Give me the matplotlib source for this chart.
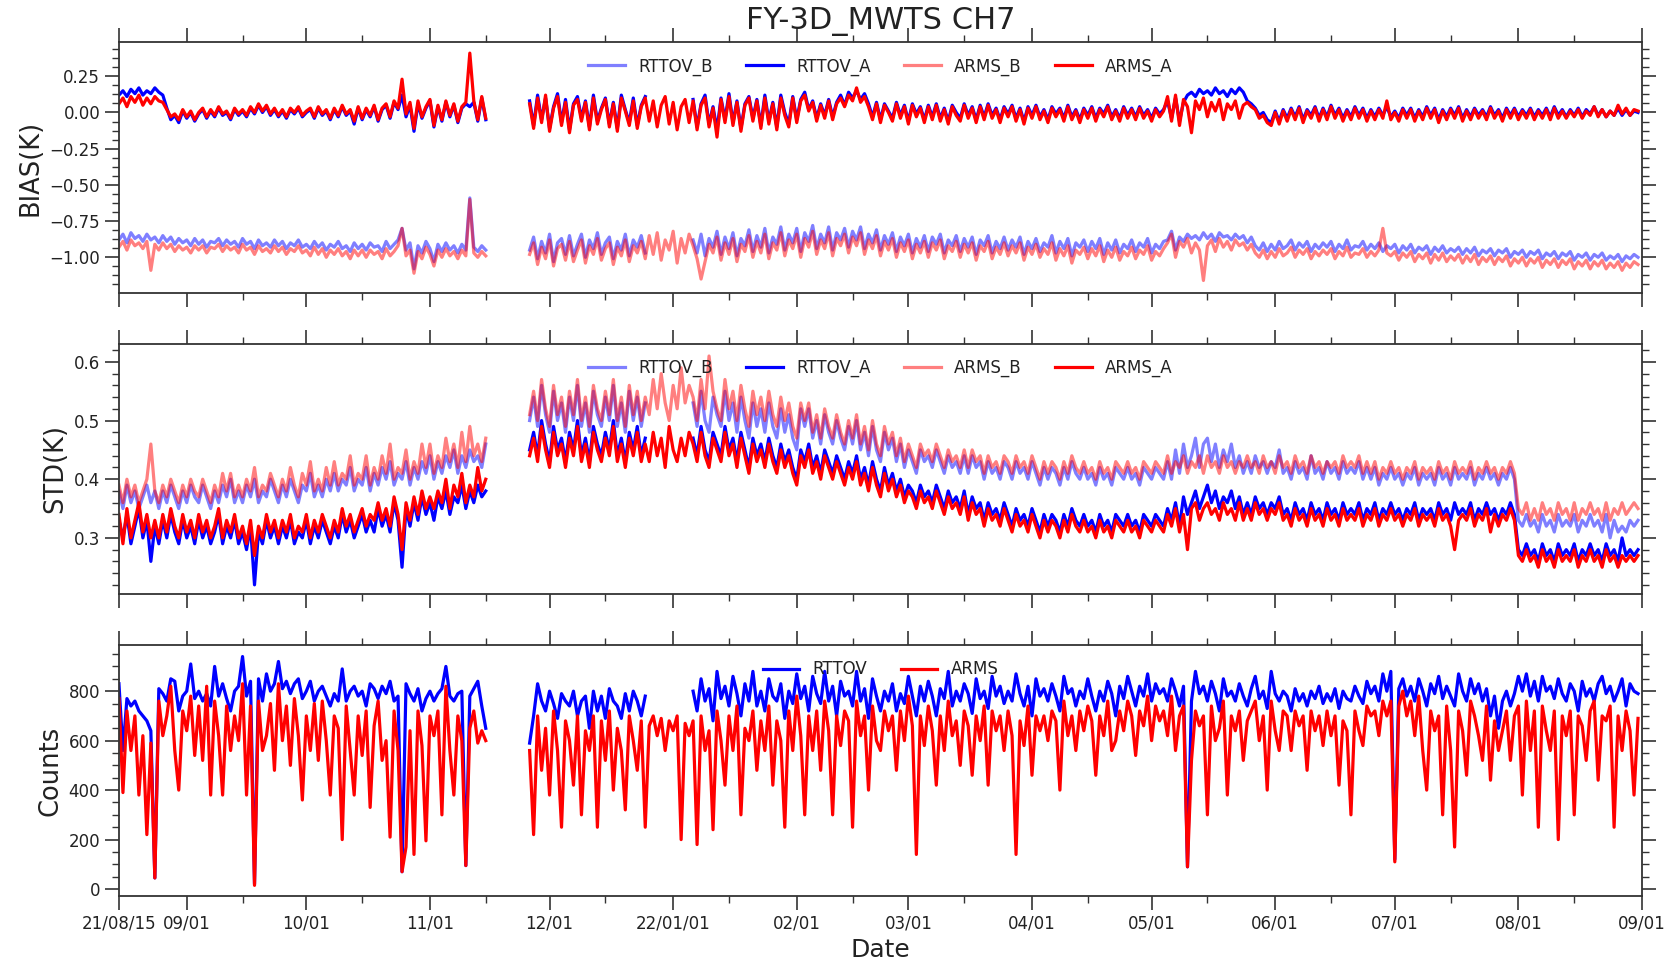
import numpy as np
import matplotlib
matplotlib.use('Agg')
import matplotlib.pyplot as plt
import matplotlib.dates as mdates
from matplotlib.ticker import AutoMinorLocator, FixedLocator, MultipleLocator
import pandas as pd

nan = float('nan')

# ---- daily time grid: two segments separated by a data gap ----
seg1_start, seg1_n = '2021-08-15', 93
seg2_start, seg2_n = '2021-11-26', 279

major_tick_dates = ['2021-08-15', '2021-09-01', '2021-10-01', '2021-11-01', '2021-12-01',
                    '2022-01-01', '2022-02-01', '2022-03-01', '2022-04-01', '2022-05-01',
                    '2022-06-01', '2022-07-01', '2022-08-01', '2022-09-01']
major_tick_labels = ['21/08/15', '09/01', '10/01', '11/01', '12/01', '22/01/01', '02/01',
                     '03/01', '04/01', '05/01', '06/01', '07/01', '08/01', '09/01']
minor_tick_dates = ['2021-09-15', '2021-10-15', '2021-11-15', '2021-12-15', '2022-01-15',
                    '2022-02-15', '2022-03-15', '2022-04-15', '2022-05-15', '2022-06-15',
                    '2022-07-15', '2022-08-15']

# ---- BIAS (K) ----
bias_rttov_b = [
    -0.88, -0.84, -0.90, -0.83, -0.87, -0.85, -0.89, -0.84, -0.88, -0.86,
    -0.90, -0.85, -0.89, -0.86, -0.91, -0.87, -0.90, -0.88, -0.92, -0.87,
    -0.91, -0.88, -0.93, -0.89, -0.90, -0.87, -0.92, -0.88, -0.91, -0.89,
    -0.93, -0.87, -0.91, -0.89, -0.94, -0.88, -0.92, -0.90, -0.93, -0.88,
    -0.92, -0.89, -0.94, -0.90, -0.92, -0.88, -0.93, -0.91, -0.94, -0.89,
    -0.93, -0.90, -0.95, -0.91, -0.93, -0.89, -0.94, -0.92, -0.96, -0.90,
    -0.94, -0.91, -0.95, -0.90, -0.93, -0.92, -0.96, -0.89, -0.94, -0.91,
    -0.88, -0.80, -0.95, -0.90, -1.08, -0.92, -0.97, -0.89, -0.94, -1.03,
    -0.91, -0.96, -0.90, -0.95, -0.92, -0.97, -0.91, -0.95, -0.59, -0.93,
    -0.96, -0.92, -0.95,
    -0.95, -0.86, -1.01, -0.89, -0.97, -0.84, -1.03, -0.90, -0.87, -0.98,
    -0.85, -0.99, -0.91, -0.84, -1.00, -0.88, -0.94, -0.83, -0.98, -0.90,
    -0.86, -1.01, -0.89, -0.95, -0.84, -0.99, -0.88, -0.93, -0.85, -0.97,
    nan, nan, nan, nan, nan, nan, nan, nan, nan, nan,
    nan, -0.88, -0.97, -0.84, -0.99, -0.87, -0.93, -0.82, -0.98, -0.86,
    -0.94, -0.83, -0.99, -0.87, -0.92, -0.81, -0.96, -0.85, -0.93, -0.80,
    -0.97, -0.86, -0.91, -0.79, -0.95, -0.84, -0.90, -0.80, -0.96, -0.83,
    -0.89, -0.78, -0.94, -0.84, -0.90, -0.79, -0.95, -0.83, -0.88, -0.80,
    -0.93, -0.82, -0.88, -0.79, -0.94, -0.84, -0.90, -0.81, -0.95, -0.85,
    -0.91, -0.83, -0.96, -0.86, -0.92, -0.84, -0.97, -0.87, -0.93, -0.85,
    -0.96, -0.86, -0.91, -0.84, -0.97, -0.88, -0.92, -0.85, -0.96, -0.87,
    -0.93, -0.86, -0.98, -0.88, -0.92, -0.85, -0.97, -0.89, -0.94, -0.86,
    -0.95, -0.88, -0.93, -0.86, -0.98, -0.89, -0.94, -0.87, -0.96, -0.90,
    -0.93, -0.85, -0.97, -0.89, -0.94, -0.87, -0.99, -0.90, -0.93, -0.88,
    -0.96, -0.89, -0.94, -0.87, -0.98, -0.90, -0.95, -0.88, -0.97, -0.91,
    -0.94, -0.88, -0.96, -0.90, -0.93, -0.87, -0.97, -0.91, -0.94, -0.89,
    -0.88, -0.82, -0.95, -0.86, -0.89, -0.84, -0.87, -0.85, -0.88, -0.83,
    -0.87, -0.84, -0.89, -0.83, -0.86, -0.85, -0.88, -0.84, -0.87, -0.85,
    -0.90, -0.86, -0.92, -0.95, -0.90, -0.96, -0.91, -0.95, -0.89, -0.94,
    -0.92, -0.88, -0.95, -0.90, -0.93, -0.89, -0.96, -0.91, -0.94, -0.90,
    -0.93, -0.89, -0.96, -0.91, -0.94, -0.88, -0.95, -0.92, -0.93, -0.89,
    -0.95, -0.91, -0.94, -0.90, -0.96, -0.92, -0.94, -0.91, -0.97, -0.92,
    -0.95, -0.91, -0.97, -0.93, -0.95, -0.92, -0.98, -0.93, -0.96, -0.92,
    -0.97, -0.94, -0.96, -0.93, -0.98, -0.94, -0.97, -0.93, -0.99, -0.95,
    -0.97, -0.94, -0.99, -0.95, -0.97, -0.94, -1.00, -0.96, -0.98, -0.95,
    -1.00, -0.96, -0.98, -0.95, -1.01, -0.97, -0.99, -0.96, -1.01, -0.97,
    -0.99, -0.96, -1.02, -0.98, -1.00, -0.97, -1.02, -0.98, -1.00, -0.97,
    -1.02, -0.99, -1.01, -0.98, -1.03, -0.99, -1.01, -0.98, -1.00,
]
bias_rttov_a = [
    0.12, 0.15, 0.11, 0.16, 0.13, 0.17, 0.12, 0.15, 0.13, 0.17,
    0.14, 0.12, 0.03, -0.05, -0.02, -0.07, 0.01, -0.04, 0.00, -0.06,
    -0.01, 0.02, -0.04, 0.01, -0.03, 0.03, -0.02, 0.00, -0.05, 0.02,
    -0.02, 0.01, -0.03, 0.03, -0.01, 0.05, 0.00, 0.04, -0.02, 0.02,
    -0.03, 0.01, -0.04, 0.02, -0.01, 0.03, -0.03, 0.00, 0.02, -0.04,
    0.03, -0.02, 0.01, -0.05, 0.02, -0.03, 0.04, -0.02, 0.01, -0.08,
    0.03, -0.05, 0.02, -0.03, 0.04, -0.06, 0.02, 0.05, -0.04, 0.07,
    0.02, 0.12, -0.03, 0.05, -0.13, 0.06, -0.04, 0.03, 0.08, -0.10,
    0.04, -0.06, 0.07, -0.03, 0.05, -0.07, 0.03, 0.06, 0.04, 0.07,
    -0.06, 0.10, -0.05,
    0.08, -0.09, 0.12, -0.05, 0.10, -0.11, 0.04, 0.13, -0.07, 0.09,
    -0.12, 0.06, 0.11, -0.04, 0.08, -0.10, 0.12, -0.06, 0.03, 0.10,
    -0.08, 0.07, -0.11, 0.12, 0.02, -0.07, 0.10, -0.09, 0.05, 0.11,
    nan, nan, nan, nan, nan, nan, nan, nan, nan, nan,
    nan, 0.09, -0.10, 0.06, 0.12, -0.08, 0.04, -0.12, 0.10, -0.05,
    0.13, -0.07, 0.08, -0.11, 0.06, 0.11, -0.04, 0.09, -0.09, 0.12,
    -0.06, 0.07, -0.10, 0.12, 0.00, -0.08, 0.11, -0.05, 0.09, 0.14,
    0.02, 0.08, -0.04, 0.06, -0.02, 0.09, -0.03, 0.07, 0.12, 0.05,
    0.14, 0.10, 0.15, 0.09, 0.13, 0.06, -0.03, 0.07, -0.05, 0.06,
    0.01, -0.04, 0.07, -0.02, 0.05, -0.06, 0.06, -0.01, 0.04, -0.05,
    0.05, -0.03, 0.06, -0.04, 0.03, -0.06, 0.05, 0.00, -0.04, 0.06,
    -0.02, 0.04, -0.05, 0.05, -0.03, 0.06, -0.02, 0.03, -0.05, 0.04,
    -0.01, 0.05, -0.04, 0.03, -0.06, 0.04, -0.02, 0.05, -0.03, 0.02,
    -0.05, 0.04, -0.01, 0.03, -0.04, 0.05, -0.03, 0.02, -0.05, 0.03,
    -0.02, 0.04, -0.04, 0.03, -0.01, 0.05, -0.03, 0.02, -0.04, 0.04,
    -0.02, 0.03, -0.03, 0.04, -0.02, 0.02, -0.04, 0.03, -0.01, 0.02,
    0.08, -0.04, 0.10, -0.06, 0.07, 0.12, 0.14, 0.11, 0.16, 0.13,
    0.15, 0.12, 0.17, 0.13, 0.15, 0.11, 0.16, 0.13, 0.17, 0.14,
    0.08, 0.06, 0.03, -0.02, 0.00, -0.05, -0.07, 0.01, -0.06, 0.02,
    -0.04, 0.03, -0.03, 0.04, -0.05, 0.02, -0.02, 0.04, -0.04, 0.03,
    -0.03, 0.05, -0.02, 0.03, -0.04, 0.02, -0.03, 0.04, -0.02, 0.03,
    -0.04, 0.02, -0.03, 0.03, -0.02, 0.04, -0.03, 0.01, -0.04, 0.03,
    -0.02, 0.03, -0.04, 0.02, -0.03, 0.04, -0.02, 0.03, -0.05, 0.02,
    -0.03, 0.03, -0.02, 0.04, -0.04, 0.02, -0.03, 0.03, -0.02, 0.02,
    -0.03, 0.04, -0.02, 0.02, -0.04, 0.03, -0.02, 0.03, -0.03, 0.02,
    -0.02, 0.03, -0.03, 0.02, -0.02, 0.03, -0.03, 0.04, -0.02, 0.02,
    -0.03, 0.02, -0.02, 0.03, -0.03, 0.02, -0.01, 0.04, -0.02, 0.02,
    -0.03, 0.01, -0.02, 0.03, -0.02, 0.02, -0.02, 0.01, 0.00,
]
bias_arms_b = [
    -0.93, -0.89, -0.95, -0.88, -0.92, -0.90, -0.94, -0.89, -1.09, -0.91,
    -0.95, -0.90, -0.94, -0.91, -0.96, -0.92, -0.95, -0.93, -0.97, -0.92,
    -0.95, -0.92, -0.97, -0.93, -0.94, -0.91, -0.96, -0.92, -0.95, -0.93,
    -0.97, -0.91, -0.95, -0.93, -0.98, -0.92, -0.96, -0.94, -0.97, -0.92,
    -0.96, -0.93, -0.98, -0.94, -0.96, -0.92, -0.97, -0.95, -0.99, -0.93,
    -0.98, -0.94, -1.00, -0.95, -0.98, -0.94, -0.99, -0.96, -1.01, -0.95,
    -0.99, -0.95, -1.00, -0.95, -0.98, -0.96, -1.01, -0.94, -0.99, -0.96,
    -0.92, -0.80, -0.99, -0.95, -1.11, -0.96, -1.01, -0.93, -0.98, -1.06,
    -0.95, -1.00, -0.94, -0.99, -0.96, -1.01, -0.95, -0.99, -0.60, -0.97,
    -1.00, -0.96, -0.99,
    -0.98, -0.90, -1.05, -0.93, -1.01, -0.88, -1.06, -0.94, -0.91, -1.02,
    -0.89, -1.03, -0.95, -0.88, -1.04, -0.92, -0.98, -0.87, -1.02, -0.94,
    -0.90, -1.05, -0.93, -0.99, -0.88, -1.03, -0.92, -0.97, -0.89, -1.01,
    -0.85, -0.98, -0.83, -1.02, -0.88, -0.95, -0.82, -1.04, -0.87, -0.97,
    -0.84, -0.92, -1.01, -1.15, -1.03, -0.91, -0.97, -0.86, -1.02, -0.90,
    -0.98, -0.87, -1.03, -0.91, -0.96, -0.85, -1.00, -0.89, -0.97, -0.84,
    -1.01, -0.90, -0.95, -0.83, -0.99, -0.88, -0.94, -0.84, -1.00, -0.87,
    -0.93, -0.82, -0.98, -0.88, -0.94, -0.83, -0.99, -0.87, -0.92, -0.84,
    -0.97, -0.86, -0.92, -0.83, -0.98, -0.88, -0.94, -0.85, -0.99, -0.89,
    -0.95, -0.87, -1.00, -0.90, -0.96, -0.88, -1.01, -0.91, -0.97, -0.89,
    -1.00, -0.90, -0.95, -0.88, -1.01, -0.92, -0.96, -0.89, -1.00, -0.91,
    -0.97, -0.90, -1.02, -0.92, -0.96, -0.89, -1.01, -0.93, -0.98, -0.90,
    -0.99, -0.92, -0.97, -0.90, -1.02, -0.93, -0.98, -0.91, -1.00, -0.94,
    -0.98, -0.90, -1.02, -0.94, -0.99, -0.92, -1.04, -0.95, -0.98, -0.93,
    -1.01, -0.94, -0.99, -0.92, -1.03, -0.95, -1.00, -0.93, -1.02, -0.96,
    -0.99, -0.93, -1.01, -0.95, -0.98, -0.92, -1.02, -0.96, -0.99, -0.94,
    -0.90, -0.84, -1.00, -0.89, -0.93, -0.87, -0.97, -0.90, -0.95, -1.16,
    -0.92, -0.88, -0.96, -0.87, -0.93, -0.89, -0.95, -0.88, -0.92, -0.90,
    -0.95, -0.91, -0.97, -1.00, -0.95, -1.01, -0.96, -1.00, -0.94, -0.99,
    -0.97, -0.93, -1.00, -0.95, -0.98, -0.94, -1.01, -0.96, -0.99, -0.95,
    -0.98, -0.94, -1.01, -0.96, -0.99, -0.93, -1.00, -0.97, -0.98, -0.94,
    -1.00, -0.96, -0.99, -0.95, -0.80, -0.97, -0.99, -0.96, -1.02, -0.97,
    -1.00, -0.96, -1.03, -0.98, -1.01, -0.97, -1.04, -0.98, -1.02, -0.97,
    -1.03, -0.99, -1.02, -0.98, -1.04, -0.99, -1.03, -0.98, -1.05, -1.00,
    -1.03, -0.99, -1.05, -1.00, -1.03, -0.99, -1.06, -1.01, -1.04, -1.00,
    -1.06, -1.01, -1.04, -1.00, -1.07, -1.02, -1.05, -1.01, -1.07, -1.02,
    -1.05, -1.01, -1.08, -1.03, -1.06, -1.02, -1.08, -1.03, -1.06, -1.02,
    -1.08, -1.04, -1.07, -1.03, -1.09, -1.04, -1.07, -1.03, -1.05,
]
bias_arms_a = [
    0.06, 0.10, 0.04, 0.11, 0.07, 0.12, 0.05, 0.10, 0.06, 0.11,
    0.08, 0.07, 0.02, -0.03, -0.01, -0.05, 0.02, -0.03, 0.01, -0.05,
    0.00, 0.03, -0.03, 0.02, -0.02, 0.04, -0.01, 0.01, -0.04, 0.03,
    -0.01, 0.02, -0.02, 0.04, 0.00, 0.06, 0.01, 0.05, -0.01, 0.03,
    -0.02, 0.02, -0.03, 0.03, 0.00, 0.04, -0.02, 0.01, 0.03, -0.03,
    0.04, -0.01, 0.02, -0.04, 0.03, -0.02, 0.05, -0.01, 0.02, -0.06,
    0.04, -0.04, 0.03, -0.02, 0.05, -0.05, 0.03, 0.06, -0.03, 0.08,
    0.03, 0.23, -0.01, 0.07, -0.11, 0.08, -0.03, 0.04, 0.09, -0.09,
    0.05, -0.05, 0.08, -0.02, 0.06, -0.06, 0.04, 0.07, 0.41, 0.08,
    -0.05, 0.11, -0.04,
    0.06, -0.11, 0.10, -0.07, 0.12, -0.13, 0.03, 0.11, -0.09, 0.07,
    -0.14, 0.05, 0.09, -0.06, 0.07, -0.12, 0.10, -0.08, 0.02, 0.09,
    -0.10, 0.06, -0.13, 0.10, 0.01, -0.09, 0.08, -0.11, 0.04, 0.10,
    -0.06, 0.08, -0.10, 0.05, 0.11, -0.08, 0.07, -0.12, 0.04, 0.09,
    -0.07, 0.08, -0.12, 0.05, 0.10, -0.10, 0.03, -0.17, 0.09, -0.07,
    0.11, -0.09, 0.07, -0.13, 0.05, 0.10, -0.06, 0.08, -0.11, 0.10,
    -0.08, 0.06, -0.12, 0.10, -0.02, -0.10, 0.10, -0.07, 0.08, 0.12,
    0.01, 0.07, -0.06, 0.05, -0.04, 0.08, -0.05, 0.06, 0.10, 0.04,
    0.12, 0.08, 0.17, 0.07, 0.11, 0.04, -0.05, 0.06, -0.07, 0.05,
    0.00, -0.06, 0.06, -0.04, 0.04, -0.08, 0.05, -0.03, 0.03, -0.07,
    0.04, -0.05, 0.05, -0.06, 0.02, -0.08, 0.04, -0.02, -0.06, 0.05,
    -0.04, 0.03, -0.07, 0.04, -0.05, 0.05, -0.04, 0.02, -0.07, 0.03,
    -0.03, 0.04, -0.06, 0.02, -0.08, 0.03, -0.04, 0.04, -0.05, 0.01,
    -0.07, 0.03, -0.03, 0.02, -0.06, 0.04, -0.05, 0.01, -0.07, 0.02,
    -0.04, 0.03, -0.06, 0.02, -0.03, 0.04, -0.05, 0.01, -0.06, 0.03,
    -0.04, 0.02, -0.05, 0.03, -0.04, 0.01, -0.06, 0.02, -0.03, 0.01,
    0.11, -0.06, 0.12, -0.09, 0.09, 0.04, -0.14, 0.08, 0.02, 0.10,
    -0.03, 0.07, 0.01, 0.09, -0.05, 0.06, 0.02, 0.08, -0.04, 0.05,
    0.07, 0.04, 0.02, -0.04, -0.02, -0.07, -0.09, 0.00, -0.08, 0.01,
    -0.06, 0.02, -0.05, 0.03, -0.07, 0.01, -0.04, 0.03, -0.06, 0.02,
    -0.05, 0.04, -0.04, 0.02, -0.06, 0.01, -0.05, 0.03, -0.04, 0.02,
    -0.06, 0.01, -0.05, 0.02, -0.04, 0.08, -0.05, 0.00, -0.06, 0.02,
    -0.04, 0.02, -0.06, 0.01, -0.05, 0.03, -0.04, 0.02, -0.07, 0.01,
    -0.05, 0.02, -0.04, 0.03, -0.06, 0.01, -0.05, 0.02, -0.04, 0.01,
    -0.05, 0.03, -0.04, 0.01, -0.06, 0.02, -0.04, 0.02, -0.05, 0.01,
    -0.04, 0.02, -0.05, 0.01, -0.04, 0.02, -0.05, 0.03, -0.04, 0.01,
    -0.04, 0.01, -0.03, 0.02, -0.04, 0.01, -0.02, 0.04, -0.03, 0.02,
    -0.03, 0.01, -0.02, 0.05, -0.01, 0.03, -0.02, 0.02, 0.01,
]

# ---- STD (K) ----
std_rttov_b = [
    0.38, 0.35, 0.39, 0.36, 0.38, 0.35, 0.37, 0.39, 0.36, 0.38,
    0.35, 0.38, 0.36, 0.39, 0.37, 0.35, 0.38, 0.36, 0.39, 0.37,
    0.36, 0.39, 0.37, 0.35, 0.38, 0.36, 0.39, 0.37, 0.40, 0.36,
    0.38, 0.36, 0.39, 0.37, 0.40, 0.36, 0.38, 0.37, 0.40, 0.38,
    0.36, 0.39, 0.37, 0.40, 0.38, 0.36, 0.39, 0.38, 0.41, 0.37,
    0.39, 0.37, 0.40, 0.38, 0.41, 0.38, 0.40, 0.39, 0.42, 0.38,
    0.40, 0.39, 0.42, 0.38, 0.41, 0.39, 0.42, 0.40, 0.43, 0.39,
    0.41, 0.40, 0.43, 0.39, 0.42, 0.40, 0.43, 0.41, 0.44, 0.40,
    0.43, 0.41, 0.44, 0.42, 0.45, 0.41, 0.44, 0.42, 0.45, 0.43,
    0.44, 0.42, 0.46,
    0.50, 0.54, 0.49, 0.56, 0.51, 0.48, 0.55, 0.50, 0.53, 0.48,
    0.54, 0.50, 0.56, 0.49, 0.53, 0.48, 0.55, 0.51, 0.49, 0.54,
    0.50, 0.56, 0.49, 0.53, 0.48, 0.55, 0.50, 0.54, 0.49, 0.53,
    nan, nan, nan, nan, nan, nan, nan, nan, nan, nan,
    nan, 0.53, 0.49, 0.55, 0.50, 0.48, 0.54, 0.51, 0.49, 0.55,
    0.50, 0.53, 0.48, 0.54, 0.50, 0.47, 0.53, 0.49, 0.52, 0.48,
    0.53, 0.49, 0.47, 0.52, 0.48, 0.51, 0.47, 0.45, 0.52, 0.49,
    0.52, 0.47, 0.50, 0.46, 0.51, 0.48, 0.46, 0.50, 0.47, 0.45,
    0.49, 0.46, 0.50, 0.45, 0.48, 0.44, 0.49, 0.45, 0.43, 0.48,
    0.45, 0.47, 0.43, 0.46, 0.42, 0.45, 0.43, 0.41, 0.45, 0.43,
    0.44, 0.42, 0.45, 0.43, 0.41, 0.44, 0.42, 0.43, 0.41, 0.44,
    0.41, 0.44, 0.42, 0.43, 0.40, 0.43, 0.41, 0.42, 0.40, 0.43,
    0.42, 0.40, 0.43, 0.41, 0.42, 0.40, 0.43, 0.41, 0.39, 0.42,
    0.40, 0.42, 0.41, 0.39, 0.42, 0.40, 0.43, 0.41, 0.40, 0.42,
    0.40, 0.41, 0.39, 0.42, 0.40, 0.41, 0.39, 0.42, 0.41, 0.40,
    0.42, 0.40, 0.41, 0.39, 0.42, 0.41, 0.40, 0.42, 0.41, 0.40,
    0.43, 0.40, 0.45, 0.41, 0.46, 0.42, 0.44, 0.47, 0.42, 0.46,
    0.47, 0.43, 0.46, 0.42, 0.45, 0.43, 0.46, 0.42, 0.44, 0.41,
    0.43, 0.41, 0.44, 0.42, 0.43, 0.41, 0.43, 0.42, 0.45, 0.41,
    0.42, 0.40, 0.43, 0.41, 0.42, 0.40, 0.44, 0.41, 0.42, 0.40,
    0.43, 0.41, 0.42, 0.40, 0.43, 0.41, 0.42, 0.41, 0.43, 0.40,
    0.42, 0.40, 0.42, 0.39, 0.41, 0.40, 0.42, 0.40, 0.41, 0.39,
    0.41, 0.40, 0.42, 0.39, 0.41, 0.40, 0.41, 0.39, 0.42, 0.40,
    0.41, 0.39, 0.42, 0.40, 0.41, 0.40, 0.42, 0.39, 0.41, 0.40,
    0.42, 0.40, 0.41, 0.39, 0.41, 0.40, 0.42, 0.40, 0.33, 0.32,
    0.34, 0.32, 0.33, 0.31, 0.34, 0.32, 0.33, 0.31, 0.34, 0.32,
    0.33, 0.32, 0.34, 0.31, 0.33, 0.32, 0.34, 0.32, 0.33, 0.31,
    0.34, 0.30, 0.33, 0.31, 0.32, 0.31, 0.33, 0.32, 0.33,
]
std_rttov_a = [
    0.33, 0.30, 0.34, 0.29, 0.32, 0.35, 0.30, 0.33, 0.26, 0.32,
    0.29, 0.33, 0.30, 0.34, 0.31, 0.29, 0.33, 0.30, 0.32, 0.29,
    0.33, 0.30, 0.32, 0.29, 0.31, 0.34, 0.29, 0.32, 0.30, 0.33,
    0.29, 0.31, 0.28, 0.32, 0.22, 0.31, 0.29, 0.33, 0.30, 0.32,
    0.29, 0.32, 0.30, 0.33, 0.29, 0.31, 0.30, 0.33, 0.29, 0.32,
    0.30, 0.33, 0.31, 0.29, 0.32, 0.30, 0.34, 0.31, 0.33, 0.30,
    0.32, 0.34, 0.31, 0.33, 0.31, 0.35, 0.32, 0.34, 0.31, 0.36,
    0.33, 0.25, 0.35, 0.32, 0.36, 0.33, 0.37, 0.34, 0.36, 0.33,
    0.37, 0.35, 0.38, 0.34, 0.37, 0.36, 0.39, 0.35, 0.38, 0.36,
    0.39, 0.37, 0.38,
    0.45, 0.48, 0.44, 0.50, 0.46, 0.43, 0.49, 0.45, 0.47, 0.43,
    0.48, 0.45, 0.50, 0.44, 0.47, 0.43, 0.49, 0.46, 0.44, 0.48,
    0.45, 0.50, 0.44, 0.47, 0.43, 0.48, 0.45, 0.49, 0.44, 0.47,
    nan, nan, nan, nan, nan, nan, nan, nan, nan, nan,
    nan, 0.47, 0.44, 0.49, 0.45, 0.43, 0.48, 0.46, 0.44, 0.49,
    0.45, 0.47, 0.43, 0.48, 0.45, 0.42, 0.47, 0.44, 0.46, 0.43,
    0.47, 0.44, 0.42, 0.46, 0.43, 0.45, 0.42, 0.40, 0.45, 0.43,
    0.46, 0.42, 0.44, 0.41, 0.45, 0.43, 0.41, 0.44, 0.42, 0.40,
    0.43, 0.41, 0.44, 0.40, 0.42, 0.39, 0.43, 0.40, 0.38, 0.42,
    0.39, 0.41, 0.38, 0.40, 0.37, 0.39, 0.38, 0.36, 0.39, 0.37,
    0.38, 0.36, 0.39, 0.37, 0.35, 0.38, 0.36, 0.37, 0.35, 0.38,
    0.34, 0.37, 0.35, 0.36, 0.33, 0.36, 0.34, 0.35, 0.33, 0.36,
    0.34, 0.32, 0.35, 0.33, 0.34, 0.32, 0.35, 0.33, 0.31, 0.34,
    0.32, 0.34, 0.33, 0.31, 0.34, 0.32, 0.35, 0.33, 0.32, 0.34,
    0.32, 0.33, 0.31, 0.34, 0.32, 0.33, 0.31, 0.34, 0.33, 0.32,
    0.34, 0.32, 0.33, 0.31, 0.34, 0.33, 0.32, 0.34, 0.33, 0.32,
    0.35, 0.33, 0.36, 0.32, 0.37, 0.34, 0.36, 0.38, 0.35, 0.37,
    0.39, 0.36, 0.38, 0.35, 0.37, 0.36, 0.38, 0.35, 0.37, 0.34,
    0.36, 0.34, 0.37, 0.35, 0.36, 0.34, 0.36, 0.35, 0.37, 0.34,
    0.35, 0.33, 0.36, 0.34, 0.35, 0.33, 0.36, 0.34, 0.35, 0.33,
    0.36, 0.34, 0.35, 0.33, 0.36, 0.34, 0.35, 0.34, 0.36, 0.33,
    0.35, 0.34, 0.36, 0.33, 0.35, 0.34, 0.36, 0.34, 0.35, 0.33,
    0.35, 0.34, 0.36, 0.33, 0.35, 0.34, 0.35, 0.33, 0.36, 0.34,
    0.35, 0.33, 0.36, 0.34, 0.35, 0.34, 0.36, 0.33, 0.35, 0.34,
    0.36, 0.34, 0.35, 0.33, 0.35, 0.34, 0.36, 0.34, 0.28, 0.27,
    0.29, 0.27, 0.28, 0.26, 0.29, 0.27, 0.28, 0.26, 0.29, 0.27,
    0.28, 0.27, 0.29, 0.26, 0.28, 0.27, 0.29, 0.27, 0.28, 0.26,
    0.29, 0.27, 0.28, 0.26, 0.30, 0.27, 0.28, 0.27, 0.28,
]
std_arms_b = [
    0.39, 0.36, 0.40, 0.37, 0.39, 0.36, 0.38, 0.40, 0.46, 0.38,
    0.36, 0.39, 0.37, 0.40, 0.38, 0.36, 0.39, 0.37, 0.40, 0.38,
    0.37, 0.40, 0.38, 0.36, 0.39, 0.37, 0.41, 0.38, 0.41, 0.37,
    0.39, 0.37, 0.40, 0.38, 0.42, 0.37, 0.39, 0.38, 0.41, 0.39,
    0.37, 0.40, 0.38, 0.42, 0.39, 0.37, 0.41, 0.39, 0.43, 0.38,
    0.40, 0.38, 0.42, 0.39, 0.43, 0.39, 0.41, 0.40, 0.44, 0.39,
    0.41, 0.40, 0.44, 0.39, 0.42, 0.40, 0.44, 0.41, 0.46, 0.40,
    0.42, 0.41, 0.45, 0.40, 0.43, 0.41, 0.46, 0.42, 0.46, 0.41,
    0.44, 0.42, 0.47, 0.43, 0.46, 0.42, 0.48, 0.43, 0.49, 0.44,
    0.46, 0.43, 0.47,
    0.51, 0.55, 0.50, 0.57, 0.52, 0.49, 0.56, 0.51, 0.54, 0.49,
    0.55, 0.51, 0.57, 0.50, 0.54, 0.49, 0.56, 0.52, 0.50, 0.55,
    0.51, 0.57, 0.50, 0.54, 0.49, 0.56, 0.51, 0.55, 0.50, 0.54,
    0.51, 0.57, 0.52, 0.58, 0.53, 0.50, 0.56, 0.52, 0.59, 0.53,
    0.56, 0.54, 0.50, 0.57, 0.52, 0.61, 0.55, 0.52, 0.50, 0.57,
    0.52, 0.55, 0.50, 0.56, 0.52, 0.49, 0.55, 0.51, 0.54, 0.50,
    0.55, 0.51, 0.49, 0.54, 0.50, 0.53, 0.49, 0.47, 0.53, 0.50,
    0.53, 0.48, 0.51, 0.47, 0.52, 0.49, 0.47, 0.51, 0.48, 0.46,
    0.50, 0.47, 0.51, 0.46, 0.49, 0.45, 0.50, 0.46, 0.44, 0.49,
    0.46, 0.48, 0.44, 0.47, 0.43, 0.46, 0.44, 0.42, 0.46, 0.44,
    0.45, 0.43, 0.46, 0.44, 0.42, 0.45, 0.43, 0.44, 0.42, 0.45,
    0.42, 0.45, 0.43, 0.44, 0.41, 0.44, 0.42, 0.43, 0.41, 0.44,
    0.43, 0.41, 0.44, 0.42, 0.43, 0.41, 0.44, 0.42, 0.40, 0.43,
    0.41, 0.43, 0.42, 0.40, 0.43, 0.41, 0.44, 0.42, 0.41, 0.43,
    0.41, 0.42, 0.40, 0.43, 0.41, 0.42, 0.40, 0.43, 0.42, 0.41,
    0.43, 0.41, 0.42, 0.40, 0.43, 0.42, 0.41, 0.43, 0.42, 0.41,
    0.44, 0.41, 0.43, 0.42, 0.44, 0.41, 0.43, 0.42, 0.44, 0.41,
    0.44, 0.42, 0.43, 0.41, 0.44, 0.42, 0.43, 0.41, 0.43, 0.42,
    0.44, 0.42, 0.43, 0.41, 0.44, 0.42, 0.43, 0.41, 0.44, 0.42,
    0.43, 0.41, 0.44, 0.42, 0.43, 0.41, 0.44, 0.42, 0.43, 0.41,
    0.43, 0.42, 0.43, 0.41, 0.44, 0.42, 0.43, 0.42, 0.44, 0.41,
    0.43, 0.41, 0.43, 0.40, 0.42, 0.41, 0.43, 0.41, 0.42, 0.40,
    0.42, 0.41, 0.43, 0.40, 0.42, 0.41, 0.42, 0.40, 0.43, 0.41,
    0.42, 0.40, 0.43, 0.41, 0.42, 0.41, 0.43, 0.40, 0.42, 0.41,
    0.43, 0.41, 0.42, 0.40, 0.42, 0.41, 0.43, 0.41, 0.35, 0.34,
    0.36, 0.33, 0.35, 0.33, 0.36, 0.34, 0.35, 0.33, 0.36, 0.34,
    0.35, 0.33, 0.36, 0.33, 0.35, 0.34, 0.36, 0.34, 0.35, 0.33,
    0.36, 0.33, 0.35, 0.34, 0.36, 0.34, 0.35, 0.36, 0.35,
]
std_arms_a = [
    0.34, 0.29, 0.35, 0.30, 0.33, 0.36, 0.31, 0.34, 0.30, 0.33,
    0.30, 0.34, 0.31, 0.35, 0.32, 0.30, 0.34, 0.31, 0.33, 0.30,
    0.34, 0.31, 0.33, 0.30, 0.32, 0.35, 0.30, 0.33, 0.31, 0.34,
    0.30, 0.32, 0.29, 0.33, 0.27, 0.32, 0.30, 0.34, 0.31, 0.33,
    0.30, 0.33, 0.31, 0.34, 0.30, 0.32, 0.31, 0.34, 0.30, 0.33,
    0.31, 0.34, 0.32, 0.30, 0.33, 0.31, 0.35, 0.32, 0.34, 0.31,
    0.33, 0.35, 0.32, 0.34, 0.33, 0.36, 0.33, 0.35, 0.32, 0.37,
    0.34, 0.28, 0.36, 0.33, 0.37, 0.34, 0.38, 0.35, 0.37, 0.35,
    0.38, 0.36, 0.40, 0.35, 0.39, 0.37, 0.41, 0.36, 0.39, 0.37,
    0.42, 0.38, 0.40,
    0.44, 0.47, 0.43, 0.49, 0.45, 0.42, 0.48, 0.44, 0.46, 0.42,
    0.47, 0.44, 0.49, 0.43, 0.46, 0.42, 0.48, 0.45, 0.43, 0.47,
    0.44, 0.49, 0.43, 0.46, 0.42, 0.47, 0.44, 0.48, 0.43, 0.46,
    0.43, 0.48, 0.44, 0.47, 0.42, 0.49, 0.45, 0.43, 0.47, 0.44,
    0.48, 0.46, 0.43, 0.48, 0.44, 0.42, 0.47, 0.45, 0.43, 0.48,
    0.44, 0.46, 0.42, 0.47, 0.44, 0.41, 0.46, 0.43, 0.45, 0.42,
    0.46, 0.43, 0.41, 0.45, 0.42, 0.44, 0.41, 0.39, 0.44, 0.42,
    0.45, 0.41, 0.43, 0.40, 0.44, 0.42, 0.40, 0.43, 0.41, 0.39,
    0.42, 0.40, 0.43, 0.39, 0.41, 0.38, 0.42, 0.39, 0.37, 0.41,
    0.38, 0.40, 0.37, 0.39, 0.36, 0.38, 0.37, 0.35, 0.38, 0.36,
    0.37, 0.35, 0.38, 0.36, 0.34, 0.37, 0.35, 0.36, 0.34, 0.37,
    0.33, 0.36, 0.34, 0.35, 0.32, 0.35, 0.33, 0.34, 0.32, 0.35,
    0.33, 0.31, 0.34, 0.32, 0.33, 0.31, 0.34, 0.32, 0.30, 0.33,
    0.31, 0.33, 0.32, 0.30, 0.33, 0.31, 0.34, 0.32, 0.31, 0.33,
    0.31, 0.32, 0.30, 0.33, 0.31, 0.32, 0.30, 0.33, 0.32, 0.31,
    0.33, 0.31, 0.32, 0.30, 0.33, 0.32, 0.31, 0.33, 0.32, 0.31,
    0.34, 0.32, 0.35, 0.31, 0.34, 0.28, 0.35, 0.36, 0.33, 0.35,
    0.36, 0.34, 0.35, 0.33, 0.36, 0.34, 0.35, 0.33, 0.36, 0.33,
    0.35, 0.33, 0.36, 0.34, 0.35, 0.33, 0.35, 0.34, 0.36, 0.33,
    0.34, 0.32, 0.35, 0.33, 0.34, 0.32, 0.35, 0.33, 0.34, 0.32,
    0.35, 0.33, 0.34, 0.32, 0.35, 0.33, 0.34, 0.33, 0.35, 0.32,
    0.34, 0.33, 0.35, 0.32, 0.34, 0.33, 0.35, 0.33, 0.34, 0.32,
    0.34, 0.33, 0.35, 0.32, 0.34, 0.33, 0.34, 0.32, 0.35, 0.33,
    0.34, 0.32, 0.28, 0.33, 0.34, 0.33, 0.35, 0.32, 0.34, 0.33,
    0.35, 0.31, 0.34, 0.32, 0.34, 0.33, 0.35, 0.33, 0.27, 0.26,
    0.28, 0.26, 0.27, 0.25, 0.28, 0.26, 0.27, 0.25, 0.28, 0.26,
    0.27, 0.26, 0.28, 0.25, 0.27, 0.26, 0.28, 0.26, 0.27, 0.25,
    0.28, 0.26, 0.27, 0.25, 0.27, 0.26, 0.27, 0.26, 0.27,
]

# ---- Counts ----
counts_rttov = [
    830, 560, 770, 740, 760, 720, 700, 680, 640, 45,
    810, 790, 760, 850, 840, 720, 780, 800, 910, 770,
    800, 760, 790, 740, 900, 780, 830, 770, 720, 800,
    820, 940, 780, 840, 20, 850, 760, 870, 800, 830,
    920, 810, 840, 790, 830, 850, 770, 800, 840, 760,
    800, 820, 780, 740, 790, 760, 890, 760, 800, 820,
    780, 800, 740, 830, 810, 770, 820, 790, 840, 760,
    780, 70, 830, 790, 760, 810, 720, 770, 800, 760,
    790, 810, 900, 780, 760, 790, 800, 95, 780, 810,
    840, 740, 650,
    590, 700, 830, 760, 720, 800, 750, 690, 790, 760,
    740, 800, 700, 760, 780, 650, 800, 720, 780, 690,
    810, 760, 740, 690, 790, 720, 800, 760, 700, 780,
    nan, nan, nan, nan, nan, nan, nan, nan, nan, nan,
    nan, 800, 720, 850, 760, 810, 680, 880, 770, 820,
    740, 860, 790, 700, 830, 760, 880, 740, 800, 720,
    850, 780, 760, 830, 690, 800, 750, 870, 770, 820,
    720, 860, 790, 750, 880, 760, 820, 700, 840, 780,
    800, 740, 880, 760, 810, 690, 850, 780, 720, 800,
    760, 830, 720, 790, 750, 860, 780, 700, 820, 760,
    840, 780, 700, 810, 770, 880, 740, 800, 760, 830,
    790, 710, 850, 770, 800, 730, 860, 780, 820, 750,
    800, 760, 870, 790, 740, 820, 700, 850, 780, 810,
    760, 830, 780, 720, 860, 790, 810, 740, 800, 770,
    850, 780, 720, 800, 760, 840, 790, 700, 820, 770,
    860, 800, 740, 820, 780, 870, 760, 830, 790, 810,
    760, 850, 800, 740, 820, 90, 760, 880, 790, 820,
    760, 840, 790, 720, 850, 780, 800, 760, 830, 780,
    740, 810, 860, 770, 800, 730, 880, 790, 760, 800,
    780, 720, 810, 760, 790, 740, 800, 770, 820, 750,
    790, 760, 810, 730, 800, 770, 760, 820, 780, 750,
    840, 790, 820, 760, 870, 800, 880, 120, 810, 850,
    780, 820, 760, 850, 800, 740, 830, 790, 860, 770,
    820, 780, 740, 870, 800, 760, 850, 790, 830, 760,
    810, 700, 780, 650, 760, 800, 740, 790, 860, 800,
    870, 780, 840, 760, 860, 800, 820, 770, 850, 790,
    760, 830, 800, 720, 840, 780, 810, 760, 830, 860,
    790, 820, 760, 800, 850, 740, 830, 800, 790,
]
counts_arms = [
    770, 390, 720, 560, 700, 380, 620, 220, 590, 45,
    760, 620, 700, 820, 560, 400, 720, 640, 780, 540,
    740, 520, 820, 380, 760, 620, 380, 740, 560, 700,
    600, 830, 380, 740, 15, 760, 560, 620, 750, 480,
    830, 600, 740, 500, 770, 620, 360, 700, 560, 750,
    520, 760, 600, 380, 700, 650, 200, 740, 560, 380,
    700, 540, 720, 330, 660, 760, 520, 600, 210, 720,
    560, 70, 170, 640, 140, 720, 580, 195, 700, 620,
    720, 300, 820, 560, 380, 700, 600, 95, 650, 720,
    590, 640, 600,
    560, 220, 700, 480, 650, 380, 720, 560, 250, 680,
    600, 420, 700, 300, 640, 560, 700, 250, 680, 520,
    720, 400, 650, 560, 320, 700, 600, 480, 680, 250,
    660, 700, 620, 690, 560, 680, 640, 700, 200, 670,
    620, 680, 180, 700, 560, 640, 240, 720, 600, 420,
    700, 560, 740, 300, 650, 600, 720, 480, 680, 560,
    740, 420, 680, 600, 250, 720, 560, 780, 620, 300,
    700, 560, 720, 480, 760, 640, 300, 700, 580, 720,
    680, 250, 760, 620, 700, 400, 740, 600, 560, 720,
    640, 700, 480, 720, 600, 780, 660, 140, 700, 580,
    740, 640, 420, 700, 560, 760, 620, 680, 500, 720,
    660, 460, 700, 600, 740, 420, 720, 640, 700, 560,
    720, 620, 140, 680, 580, 740, 460, 700, 640, 700,
    600, 720, 680, 400, 760, 620, 700, 560, 720, 640,
    740, 680, 460, 700, 620, 760, 560, 600, 720, 640,
    760, 700, 540, 720, 660, 780, 600, 740, 680, 720,
    620, 780, 560, 700, 740, 90, 520, 720, 660, 700,
    300, 740, 600, 650, 760, 380, 700, 640, 720, 520,
    680, 720, 760, 600, 700, 400, 760, 640, 560, 720,
    700, 560, 720, 660, 700, 480, 720, 640, 700, 580,
    720, 620, 700, 420, 680, 640, 300, 720, 640, 580,
    740, 700, 720, 620, 760, 700, 760, 110, 740, 800,
    700, 760, 620, 780, 560, 400, 720, 640, 700, 300,
    740, 560, 170, 720, 640, 460, 760, 700, 620, 520,
    740, 440, 680, 560, 640, 720, 520, 700, 740, 380,
    760, 560, 720, 250, 740, 640, 560, 720, 200, 700,
    620, 720, 300, 700, 660, 520, 720, 760, 440, 700,
    680, 740, 250, 700, 560, 720, 640, 380, 690,
]

# ---------------------------------------------------------------
t1 = mdates.date2num(pd.date_range(seg1_start, periods=seg1_n, freq='D').to_pydatetime())
t2 = mdates.date2num(pd.date_range(seg2_start, periods=seg2_n, freq='D').to_pydatetime())
x = np.concatenate([t1, [np.nan], t2])


def prep(vals):
    v = np.asarray(vals, dtype=float)
    return np.concatenate([v[:seg1_n], [np.nan], v[seg1_n:]])


TXT = '#222222'
SPN = '#333333'
plt.rcParams['font.family'] = ['DejaVu Sans']

fig = plt.figure(figsize=(16.66, 9.6), dpi=100)
L, W, H = 0.0714, 0.9142, 0.261
ax1 = fig.add_axes([L, 0.695, W, H])
ax2 = fig.add_axes([L, 0.381, W, H])
ax3 = fig.add_axes([L, 0.0667, W, H])

lw = 2.3
for ax, (rb, ra, ab, aa) in [(ax1, (bias_rttov_b, bias_rttov_a, bias_arms_b, bias_arms_a)),
                             (ax2, (std_rttov_b, std_rttov_a, std_arms_b, std_arms_a))]:
    ax.plot(x, prep(rb), color='blue', alpha=0.5, lw=lw, label='RTTOV_B')
    ax.plot(x, prep(ra), color='blue', lw=lw, label='RTTOV_A')
    ax.plot(x, prep(ab), color='red', alpha=0.5, lw=lw, label='ARMS_B')
    ax.plot(x, prep(aa), color='red', lw=lw, label='ARMS_A')
    ax.legend(loc='upper center', ncol=4, frameon=False, fontsize=12, handlelength=2.2,
              labelcolor=TXT)

ax3.plot(x, prep(counts_rttov), color='blue', lw=lw, label='RTTOV')
ax3.plot(x, prep(counts_arms), color='red', lw=lw, label='ARMS')
ax3.legend(loc='upper center', ncol=2, frameon=False, fontsize=12, handlelength=2.2,
           labelcolor=TXT)

ax1.set_ylim(-1.245, 0.485)
ax1.yaxis.set_major_locator(MultipleLocator(0.25))
ax1.yaxis.set_minor_locator(AutoMinorLocator(4))
ax1.set_ylabel('BIAS(K)', fontsize=18.5, color=TXT)

ax2.set_ylim(0.204, 0.631)
ax2.yaxis.set_major_locator(MultipleLocator(0.1))
ax2.yaxis.set_minor_locator(AutoMinorLocator(5))
ax2.set_ylabel('STD(K)', fontsize=18.5, color=TXT)

ax3.set_ylim(-28, 985)
ax3.yaxis.set_major_locator(MultipleLocator(200))
ax3.yaxis.set_minor_locator(AutoMinorLocator(4))
ax3.set_ylabel('Counts', fontsize=18.5, color=TXT)
ax3.set_xlabel('Date', fontsize=18, color=TXT)

major_nums = mdates.date2num(pd.to_datetime(major_tick_dates).to_pydatetime())
minor_nums = mdates.date2num(pd.to_datetime(minor_tick_dates).to_pydatetime())
for ax in (ax1, ax2, ax3):
    ax.set_xlim(major_nums[0], major_nums[-1])
    ax.xaxis.set_major_locator(FixedLocator(major_nums))
    ax.xaxis.set_minor_locator(FixedLocator(minor_nums))
    ax.tick_params(which='both', direction='out', top=True, right=True,
                   labeltop=False, labelright=False, colors=SPN, labelcolor=TXT,
                   labelsize=12)
    ax.tick_params(which='major', length=10, width=1.2)
    ax.tick_params(which='minor', length=5, width=1.0)
    for s in ax.spines.values():
        s.set_color(SPN)
        s.set_linewidth(1.3)
    if ax is not ax3:
        ax.tick_params(labelbottom=False)
ax3.set_xticklabels(major_tick_labels)

fig.text(L + W / 2, 0.978, 'FY-3D_MWTS CH7', ha='center', va='center', fontsize=22, color=TXT)

fig.savefig('out.png', dpi=100)
